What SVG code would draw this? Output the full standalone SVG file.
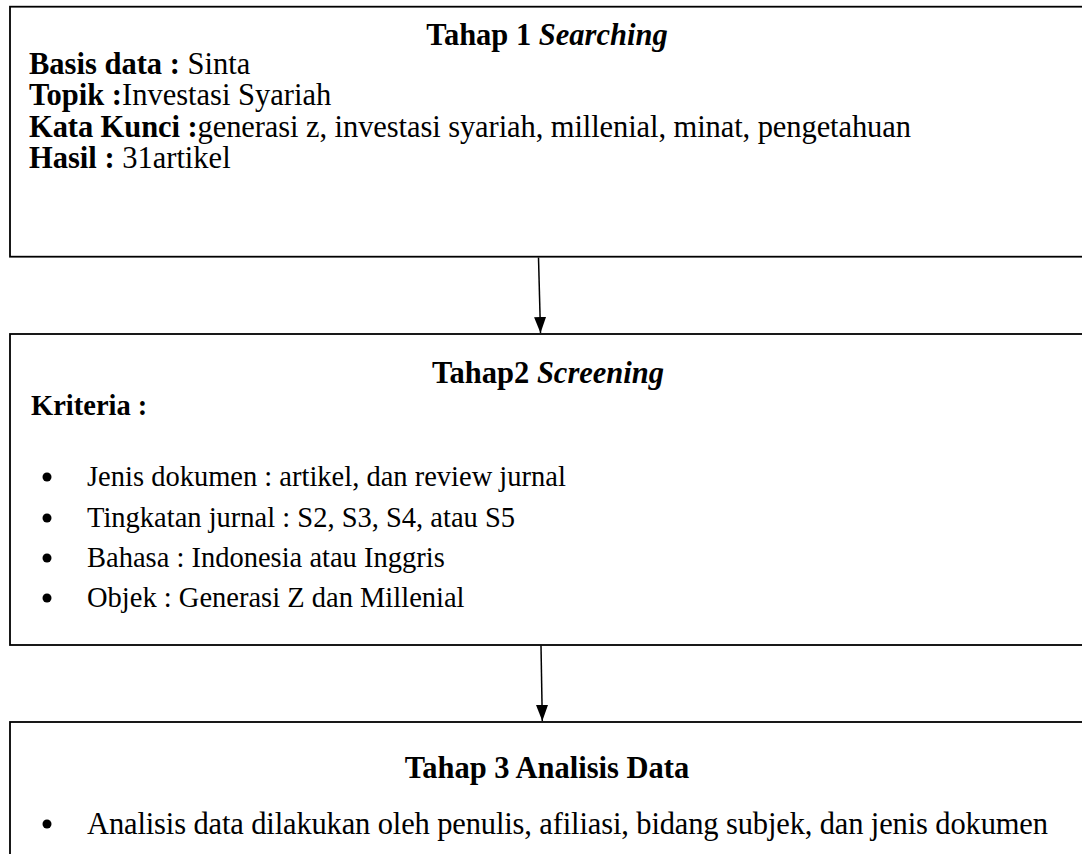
<svg xmlns="http://www.w3.org/2000/svg" width="1082" height="854" viewBox="0 0 1082 854">
<defs>
<style>
.box{fill:#fff;stroke:#000;stroke-width:1.8}
.t{font-family:"Liberation Serif","Times New Roman",serif;font-size:30.5px;fill:#000}
.s{font-size:28.5px}
.b{font-weight:bold}
.i{font-style:italic}
.c{text-anchor:middle}
.edge{stroke:#000;stroke-width:1.5;fill:none}
</style>
<marker id="ah" viewBox="0 0 16 12" refX="16" refY="6" markerWidth="16" markerHeight="12" markerUnits="userSpaceOnUse" orient="auto">
<path d="M0,0 L16,6 L0,12 Z" fill="#000"/>
</marker>
</defs>
<rect width="1082" height="854" fill="#fff"/>
<g id="node-tahap1">
<rect class="box" x="10" y="6.7" width="1100" height="250"/>
<text class="t b c" x="547" y="45">Tahap 1 <tspan class="i">Searching</tspan></text>
<text class="t" x="29" y="74"><tspan class="b">Basis data :</tspan> Sinta</text>
<text class="t" x="29" y="105"><tspan class="b">Topik :</tspan>Investasi Syariah</text>
<text class="t" x="29" y="137" textLength="882" lengthAdjust="spacing"><tspan class="b">Kata Kunci :</tspan>generasi z, investasi syariah, millenial, minat, pengetahuan</text>
<text class="t" x="29" y="168"><tspan class="b">Hasil :</tspan> 31artikel</text>
</g>
<g id="node-tahap2">
<rect class="box" x="10" y="334" width="1100" height="311"/>
<text class="t b c" x="548" y="383">Tahap2 <tspan class="i">Screening</tspan></text>
<text class="t s b" x="31" y="415">Kriteria :</text>
<circle cx="47" cy="477" r="4.5"/>
<text class="t s" x="87" y="486">Jenis dokumen : artikel, dan review jurnal</text>
<circle cx="47" cy="518" r="4.5"/>
<text class="t s" x="87" y="527">Tingkatan jurnal : S2, S3, S4, atau S5</text>
<circle cx="47" cy="558" r="4.5"/>
<text class="t s" x="87" y="567">Bahasa : Indonesia atau Inggris</text>
<circle cx="47" cy="598" r="4.5"/>
<text class="t s" x="87" y="607">Objek : Generasi Z dan Millenial</text>
</g>
<g id="node-tahap3">
<rect class="box" x="10" y="722" width="1100" height="200"/>
<text class="t b c" x="547" y="778">Tahap 3 Analisis Data</text>
<circle cx="47" cy="824" r="4.5"/>
<text class="t" x="87" y="834" textLength="961" lengthAdjust="spacing">Analisis data dilakukan oleh penulis, afiliasi, bidang subjek, dan jenis dokumen</text>
</g>
<g id="connectors">
<line class="edge" x1="538.5" y1="257.5" x2="540.5" y2="333" marker-end="url(#ah)"/>
<line class="edge" x1="541" y1="645.5" x2="542.3" y2="721" marker-end="url(#ah)"/>
</g>
</svg>
